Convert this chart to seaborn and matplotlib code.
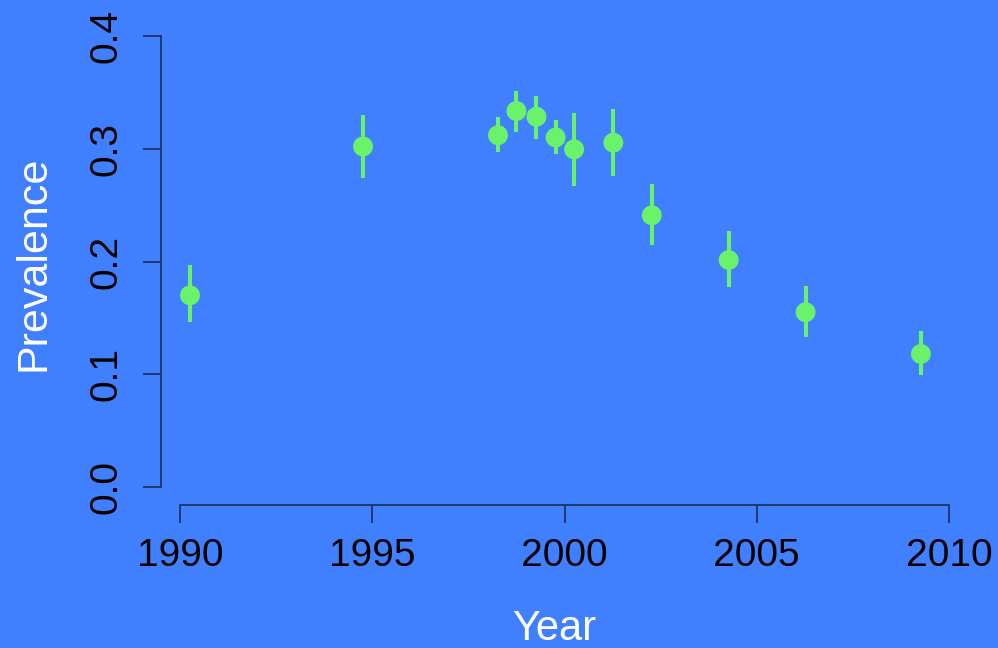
import matplotlib
matplotlib.use("Agg")
import matplotlib.pyplot as plt
import seaborn as sns
import pandas as pd

years = [1990.26, 1994.76, 1998.27, 1998.75, 1999.27, 1999.77, 2000.25, 2001.27, 2002.27, 2004.27, 2006.27, 2009.27]
prevalence = [0.170, 0.302, 0.312, 0.3335, 0.3284, 0.310, 0.2995, 0.3054, 0.241, 0.2013, 0.155, 0.118]
lower = [0.146, 0.274, 0.297, 0.315, 0.309, 0.295, 0.267, 0.276, 0.2146, 0.177, 0.133, 0.0993]
upper = [0.197, 0.330, 0.328, 0.3515, 0.347, 0.3255, 0.332, 0.3355, 0.2687, 0.2273, 0.1785, 0.138]
x_ticks = [1990, 1995, 2000, 2005, 2010]
y_ticks = [0.0, 0.1, 0.2, 0.3, 0.4]
y_tick_labels = ["0.0", "0.1", "0.2", "0.3", "0.4"]

df = pd.DataFrame({"Year": years, "Prevalence": prevalence, "lo": lower, "hi": upper})

BG = "#4080FF"
GREEN = "#6AF36A"
AXC = "#1E3366"

sns.set_theme(style="white")
plt.rcParams["font.family"] = ["Liberation Sans", "DejaVu Sans"]

fig = plt.figure(figsize=(9.98, 6.48), dpi=100, facecolor=BG)
ax = fig.add_axes([161/998, 1-505/648, 809/998, 485/648])
ax.set_facecolor(BG)

ax.vlines(df["Year"], df["lo"], df["hi"], color=GREEN, linewidth=2.9, zorder=2)
sns.scatterplot(data=df, x="Year", y="Prevalence", ax=ax, color=GREEN, s=205,
                edgecolor="none", linewidth=0, zorder=3)

ax.set_xlim(1990 + (161-180)/38.45, 1990 + (970-180)/38.45)
ax.set_ylim((487-505)/1127.5, (487-20)/1127.5)

for s in ["top", "right"]:
    ax.spines[s].set_visible(False)
ax.spines["left"].set_bounds(0.0, 0.4)
ax.spines["bottom"].set_bounds(1990, 2010)
for s in ["left", "bottom"]:
    ax.spines[s].set_color(AXC)
    ax.spines[s].set_linewidth(1.3)

ax.set_xticks(x_ticks)
ax.set_xticklabels([str(t) for t in x_ticks])
ax.set_yticks(y_ticks)
ax.set_yticklabels(y_tick_labels, rotation=90, va="center")
ax.tick_params(axis="both", which="both", direction="out", length=13, width=1.3,
               color=AXC, labelcolor="black", labelsize=28, left=True, bottom=True)
ax.tick_params(axis="x", pad=11)
ax.tick_params(axis="y", pad=13)

ax.set_xlabel("")
ax.set_ylabel("")
fig.text(554/998, 1-640/648, "Year", color="white", fontsize=30, ha="center", va="baseline")
fig.text(45/998, 1-263/648, "Prevalence", color="white", fontsize=31, ha="center", va="baseline",
         rotation=90, rotation_mode="anchor")

fig.savefig("out.png", dpi=100, facecolor=BG)
